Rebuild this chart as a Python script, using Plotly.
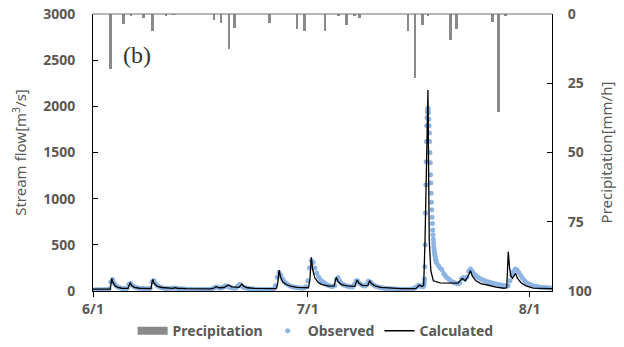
import numpy as np
import pandas as pd
import plotly.graph_objects as go

BASE = pd.Timestamp("2019-06-01")

# ---------------- Precipitation (mm/h) ----------------
precip_day = [2.4, 4.3, 5.3, 7.1, 8.3, 10.2, 11.2, 16.9, 17.9, 19.0, 19.8,
              24.7, 28.5, 29.5, 32.4, 34.3, 35.4, 36.5, 37.2, 44.0, 45.0,
              46.0, 46.8, 49.9, 50.8, 55.8, 56.7, 57.6]
precip_val = [19.9, 3.6, 0.5, 1.5, 6.2, 0.5, 0.3, 2.2, 3.2, 12.5, 5.0,
              3.4, 5.5, 6.0, 6.3, 0.5, 4.1, 0.5, 1.5, 6.0, 23.1,
              4.1, 0.5, 9.4, 5.5, 2.9, 35.4, 0.5]

# ---------------- Observed stream flow (m3/s) ----------------
# 6-hourly values, day 0.00 .. 45.75
obs_a = [
    12, 12, 13, 13,   13, 12, 13, 14,   15, 22, 100, 125,  80, 55, 42, 35,
    30, 27, 25, 26,   70, 85, 60, 45,   38, 33, 30, 28,    26, 24, 23, 24,
    30, 100, 115, 78, 58, 46, 39, 34,   30, 28, 26, 25,    26, 32, 33, 28,
    25, 23, 22, 21,   20, 19, 18, 18,   17, 17, 16, 16,    16, 15, 15, 15,
    15, 16, 20, 26,   38, 44, 36, 32,   32, 42, 58, 52,    44, 38, 33, 30,
    32, 55, 72, 55,   42, 34, 29, 26,   24, 22, 21, 20,    19, 18, 18, 17,
    17, 16, 16, 16,   17, 25, 60, 150,  200, 170, 130, 100, 82, 68, 58, 50,
    44, 40, 37, 34,   32, 31, 32, 45,   110, 250, 330, 310, 250, 195, 155, 125,
    105, 88, 76, 66,  58, 52, 48, 60,   125, 145, 105, 82, 68, 60, 54, 50,
    46, 44, 70, 112,  108, 82, 68, 58,  54, 72, 108, 95,   76, 62, 52, 45,
    40, 36, 33, 30,   28, 26, 24, 23,   22, 21, 20, 20,    19, 19, 18, 18,
    18, 18, 20, 26,   36, 48, 62, 52,
]
# hourly values, day 46.0 .. 47.96 (main flood)
obs_h = [
    45, 46, 48, 52, 58, 65, 75, 90, 130, 263, 500, 845,
    1150, 1400, 1620, 1790, 1880, 1940, 1970, 1980, 1960, 1930, 1860, 1790,
    1710, 1620, 1500, 1390, 1260, 1170, 1060, 960, 880, 800, 730, 660,
    610, 560, 520, 480, 450, 420, 400, 380, 360, 345, 330, 318,
]
# 6-hourly values, day 48.00 .. 64.00
obs_b = [
    305, 275, 250, 230,  190, 162, 142, 126,  108, 98, 90, 84,   76, 88, 132, 146,
    128, 152, 215, 238,  212, 186, 166, 150,  138, 128, 119, 111, 104, 97, 91, 86,
    81, 76, 72, 68,      64, 60, 57, 55,      58, 110, 170, 212, 238, 228, 200, 168,
    140, 116, 96, 82,    72, 64, 57, 52,      48, 44, 41, 39,    37, 35, 34, 33,
    32,
]

# ---------------- Calculated stream flow (m3/s) ----------------
calc_day = [0, 1.5, 2.4, 2.5, 2.62, 2.8, 3.1, 3.5, 4.0, 4.9, 5.0, 5.18, 5.4, 5.8,
            6.5, 7.5, 8.1, 8.25, 8.35, 8.55, 9.0, 9.6, 10.5, 11.2, 11.4, 11.8,
            13.0, 15.0, 16.5, 17.0, 17.2, 17.6, 18.3, 18.9, 19.4, 20.4, 20.6,
            20.8, 21.1, 21.6, 22.5, 24.0, 25.6, 25.8, 26.0, 26.2, 26.5, 27.0,
            27.6, 28.5, 30.1, 30.3, 30.5, 30.7, 31.0, 31.5, 32.0, 33.0, 33.7,
            33.85, 34.0, 34.25, 34.7, 35.5, 36.6, 36.75, 36.9, 37.15, 37.6,
            38.4, 38.55, 38.65, 38.9, 39.4, 40.2, 41.5, 43.0, 45.1, 45.4, 45.6,
            45.9, 46.2, 46.39, 46.6, 46.8, 46.9, 46.98, 47.2, 47.55, 48.5, 50.5,
            51.0, 51.4, 51.6, 52.0, 52.4, 52.74, 53.0, 53.5, 54.2, 55.1, 56.3,
            57.4, 57.8, 57.9, 58.02, 58.2, 58.4, 58.6, 58.85, 59.04, 59.3, 59.8,
            60.5, 61.5, 64.2]
calc_val = [20, 18, 20, 70, 137, 90, 55, 38, 30, 28, 60, 90, 60, 40,
            30, 25, 26, 90, 126, 80, 50, 38, 30, 28, 36, 30,
            25, 22, 22, 35, 47, 35, 38, 65, 45, 40, 60,
            76, 50, 35, 28, 24, 25, 80, 227, 150, 100, 70,
            52, 40, 35, 120, 365, 230, 140, 90, 70, 52, 55,
            110, 148, 100, 70, 55, 50, 90, 119, 85, 62,
            58, 95, 112, 80, 55, 40, 30, 25, 25, 45, 65,
            50, 60, 550, 1400, 2178, 1200, 550, 220, 110, 88, 80,
            85, 120, 137, 110, 160, 220, 160, 110, 80, 65, 42,
            30, 35, 200, 426, 250, 160, 137, 170, 190, 140, 90,
            55, 32, 25]

X_TICK_DAYS = [0, 30, 61]
X_TICK_TEXT = ["6/1", "7/1", "8/1"]


def to_time(days):
    return BASE + pd.to_timedelta(np.asarray(days, dtype=float), unit="D")


obs_days = np.concatenate([
    np.arange(len(obs_a)) * 0.25,
    46.0 + np.arange(len(obs_h)) / 24.0,
    48.0 + np.arange(len(obs_b)) * 0.25,
])
obs_vals = np.array(obs_a + obs_h + obs_b, dtype=float)

GRAY_TXT = "#595959"
BAR_COLOR = "#8a8a8a"
FONT = "Noto Sans"
BAR_W = 0.38 * 86400000  # ms

fig = go.Figure()
# legend-only entry so the precipitation key is a wide rectangle like the original
fig.add_trace(go.Scatter(
    x=[None], y=[None], mode="lines", name="Precipitation", legendgroup="p",
    line=dict(color=BAR_COLOR, width=8), hoverinfo="skip",
))
fig.add_trace(go.Bar(
    x=to_time(precip_day), y=precip_val, yaxis="y2", name="Precipitation",
    legendgroup="p", showlegend=False,
    marker=dict(color=BAR_COLOR, line=dict(width=0)), width=BAR_W,
))
fig.add_trace(go.Scatter(
    x=to_time(obs_days), y=obs_vals, mode="markers", name="Observed",
    marker=dict(color="#8db4e2", size=5, line=dict(width=0)),
))
fig.add_trace(go.Scatter(
    x=to_time(calc_day), y=calc_val, mode="lines", name="Calculated",
    line=dict(color="black", width=1.3),
))

tickfont = dict(family=FONT, size=14, color=GRAY_TXT, weight="bold")
titlefont = dict(family=FONT, size=15, color=GRAY_TXT)

fig.update_layout(
    width=624, height=347,
    margin=dict(l=93, r=72, t=14, b=56, autoexpand=False),
    paper_bgcolor="white", plot_bgcolor="white",
    showlegend=True,
    legend=dict(orientation="h", x=0.485, xanchor="center", y=-0.145,
                yanchor="middle", font=dict(family=FONT, size=14, color=GRAY_TXT,
                                            weight="bold"),
                itemwidth=30, traceorder="normal"),
    xaxis=dict(
        type="date", automargin=False,
        range=[BASE, BASE + pd.Timedelta(days=64.13)],
        tickvals=list(to_time(X_TICK_DAYS)), ticktext=X_TICK_TEXT,
        ticks="outside", ticklen=5, tickcolor="black",
        showline=True, linecolor="black", linewidth=1,
        showgrid=False, zeroline=False, tickfont=tickfont,
    ),
    yaxis=dict(
        automargin=False,
        range=[0, 3000], dtick=500, ticks="inside", ticklen=5, tickcolor="black",
        showline=True, linecolor="black", linewidth=1, showgrid=False,
        zeroline=False, tickfont=tickfont, ticklabelstandoff=14,
        title=dict(text="Stream flow[m<sup>3</sup>/s]", font=titlefont, standoff=12),
    ),
    yaxis2=dict(
        automargin=False,
        overlaying="y", side="right", range=[100, 0], dtick=25,
        ticks="inside", ticklen=5, tickcolor="black",
        showline=True, linecolor="black", linewidth=1, showgrid=False,
        zeroline=False, tickfont=tickfont, ticklabelstandoff=12,
        title=dict(text="Precipitation[mm/h]", font=titlefont, standoff=10),
    ),
    bargap=0,
    shapes=[dict(type="line", xref="paper", yref="paper", x0=0, x1=1, y0=1, y1=1,
                 line=dict(color="#6e6e6e", width=1.2))],
    annotations=[dict(text="(b)", xref="paper", yref="paper", x=0.096, y=0.852,
                      xanchor="center", yanchor="middle",
                      showarrow=False, font=dict(family="Liberation Serif", size=24,
                                                 color="#333333"))],
)

fig.write_html("out.html",
               config={"displayModeBar": False},
               post_script="document.body.style.margin='0px';"
                           "document.body.style.padding='0px';")
